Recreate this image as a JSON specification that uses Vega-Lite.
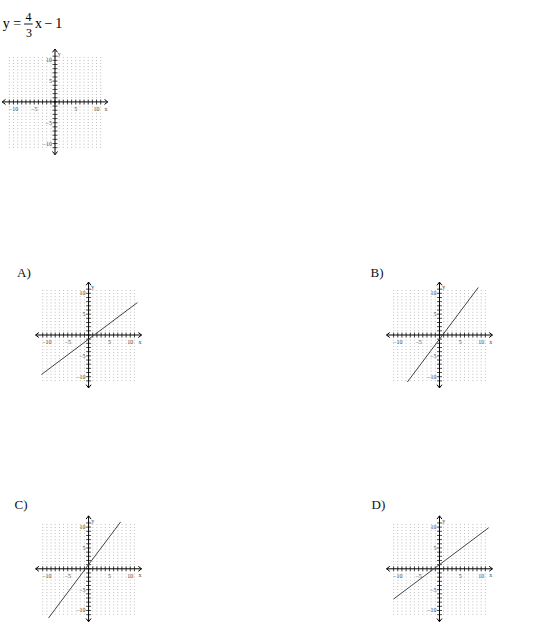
{
  "$schema": "https://vega.github.io/schema/vega-lite/v6.json",
  "description": "Worksheet: graph y = 4/3x - 1, with four answer graphs A-D.",
  "padding": 0,
  "bounds": "flush",
  "columns": 2,
  "align": "each",
  "spacing": {"row": 124.8, "column": 208.9},
  "datasets": {
    "grid": [{"v": -11}, {"v": -10}, {"v": -9}, {"v": -8}, {"v": -7}, {"v": -6}, {"v": -5}, {"v": -4}, {"v": -3}, {"v": -2}, {"v": -1}, {"v": 0}, {"v": 1}, {"v": 2}, {"v": 3}, {"v": 4}, {"v": 5}, {"v": 6}, {"v": 7}, {"v": 8}, {"v": 9}, {"v": 10}, {"v": 11}],
    "ticklabels": [{"v": -10}, {"v": -5}, {"v": 5}, {"v": 10}],
    "axes": [{"x": -12.7, "x2": 12.7, "y": 0, "y2": 0}, {"x": 0, "x2": 0, "y": -12.7, "y2": 12.7}],
    "arrows": [{"x": -12.7, "y": 0, "d": "left"}, {"x": 12.7, "y": 0, "d": "right"}, {"x": 0, "y": 12.7, "d": "up"}, {"x": 0, "y": -12.7, "d": "down"}],
    "names": [{"t": "x", "x": 12.3, "y": -1.6}, {"t": "y", "x": 1.0, "y": 11.5}],
    "lines": [
      {"p": "A", "x": -11.3, "y": -9.475}, {"p": "A", "x": 11.7, "y": 7.775},
      {"p": "B", "x": -7.7, "y": -11.27}, {"p": "B", "x": 9.3, "y": 11.4},
      {"p": "C", "x": -9.6, "y": -11.8}, {"p": "C", "x": 7.7, "y": 11.27},
      {"p": "D", "x": -11.0, "y": -7.25}, {"p": "D", "x": 11.8, "y": 9.85}
    ]
  },
  "concat": [
    {
      "width": 108,
      "height": 156,
      "data": {"values": [{}]},
      "layer": [
        {"data": {"name": "grid"}, "mark": {"type": "rule", "stroke": "#9a9a9a", "strokeWidth": 0.8, "strokeDash": [0.8, 2.3]},
         "encoding": {"x": {"field": "v", "type": "quantitative", "scale": {"domain": [-13, 13], "nice": false, "zero": false}},
                      "y": {"datum": -11, "type": "quantitative", "scale": {"domain": [-13, 24.5], "nice": false, "zero": false}}, "y2": {"datum": 11}}},
        {"data": {"name": "axes"}, "mark": {"type": "rule", "stroke": "#000", "strokeWidth": 1},
         "encoding": {"x": {"field": "x", "type": "quantitative"}, "x2": {"field": "x2"}, "y": {"field": "y", "type": "quantitative"}, "y2": {"field": "y2"}}},
        {"data": {"name": "grid"}, "mark": {"type": "tick", "orient": "vertical", "size": 5, "thickness": 1, "color": "#000"},
         "encoding": {"x": {"field": "v", "type": "quantitative"}, "y": {"datum": 0, "type": "quantitative"}}},
        {"data": {"name": "grid"}, "mark": {"type": "tick", "orient": "horizontal", "size": 5, "thickness": 1, "color": "#000"},
         "encoding": {"y": {"field": "v", "type": "quantitative"}, "x": {"datum": 0, "type": "quantitative"}}},
        {"data": {"name": "arrows"}, "mark": {"type": "point", "filled": false, "color": "#000", "strokeWidth": 1, "size": 25, "opacity": 1},
         "encoding": {"x": {"field": "x", "type": "quantitative"}, "y": {"field": "y", "type": "quantitative"},
                      "shape": {"field": "d", "type": "nominal", "legend": null, "scale": {"domain": ["left", "right", "up", "down"], "range": ["M1.3,-1L0,0L1.3,1", "M-1.3,-1L0,0L-1.3,1", "M-1,1.3L0,0L1,1.3", "M-1,-1.3L0,0L1,-1.3"]}}}},
        {"data": {"name": "ticklabels"}, "mark": {"type": "text", "font": "Liberation Serif", "fontSize": 6, "color": "#333", "opacity": 0.9, "dy": 7, "baseline": "middle"},
         "encoding": {"x": {"field": "v", "type": "quantitative"}, "y": {"datum": 0, "type": "quantitative"}, "text": {"field": "v", "type": "quantitative"}}},
        {"data": {"name": "ticklabels"}, "mark": {"type": "text", "font": "Liberation Serif", "fontSize": 6, "color": "#333", "opacity": 0.9, "dx": -3, "align": "right", "baseline": "middle"},
         "encoding": {"y": {"field": "v", "type": "quantitative"}, "x": {"datum": 0, "type": "quantitative"}, "text": {"field": "v", "type": "quantitative"}}},
        {"data": {"name": "names"}, "mark": {"type": "text", "font": "Liberation Serif", "fontSize": 6, "color": "#333", "opacity": 0.9, "baseline": "middle"},
         "encoding": {"x": {"field": "x", "type": "quantitative"}, "y": {"field": "y", "type": "quantitative"}, "text": {"field": "t"}}},
        {"mark": {"type": "text", "text": "y", "font": "Liberation Serif", "fontSize": 14, "baseline": "alphabetic"},
         "encoding": {"x": {"datum": -11.72, "type": "quantitative"}, "y": {"datum": 17.69, "type": "quantitative"}}},
        {"mark": {"type": "text", "text": "=", "font": "Liberation Serif", "fontSize": 14, "baseline": "alphabetic"},
         "encoding": {"x": {"datum": -9.1, "type": "quantitative"}, "y": {"datum": 17.69, "type": "quantitative"}}},
        {"mark": {"type": "text", "text": "4", "font": "Liberation Serif", "fontSize": 12, "baseline": "alphabetic"},
         "encoding": {"x": {"datum": -6.38, "type": "quantitative"}, "y": {"datum": 19.52, "type": "quantitative"}}},
        {"mark": {"type": "rule", "stroke": "#000", "strokeWidth": 0.9},
         "encoding": {"x": {"datum": -7.45, "type": "quantitative"}, "x2": {"datum": -5.37}, "y": {"datum": 18.73, "type": "quantitative"}}},
        {"mark": {"type": "text", "text": "3", "font": "Liberation Serif", "fontSize": 12, "baseline": "alphabetic"},
         "encoding": {"x": {"datum": -6.25, "type": "quantitative"}, "y": {"datum": 15.67, "type": "quantitative"}}},
        {"mark": {"type": "text", "text": "x", "font": "Liberation Serif", "fontSize": 14, "baseline": "alphabetic"},
         "encoding": {"x": {"datum": -3.97, "type": "quantitative"}, "y": {"datum": 17.69, "type": "quantitative"}}},
        {"mark": {"type": "text", "text": "−", "font": "Liberation Serif", "fontSize": 14, "baseline": "alphabetic"},
         "encoding": {"x": {"datum": -1.6, "type": "quantitative"}, "y": {"datum": 17.69, "type": "quantitative"}}},
        {"mark": {"type": "text", "text": "1", "font": "Liberation Serif", "fontSize": 14, "baseline": "alphabetic"},
         "encoding": {"x": {"datum": 0.91, "type": "quantitative"}, "y": {"datum": 17.69, "type": "quantitative"}}}
      ]
    },
    {
      "width": 141.8,
      "height": 156,
      "data": {"values": []},
      "mark": {"type": "point", "opacity": 0},
      "encoding": {}
    },
    {
      "width": 141.8, "height": 108.4,
      "title": {"text": "A)", "anchor": "start", "frame": "group", "dx": 16, "offset": 2.5, "dy": 12.5, "baseline": "alphabetic", "font": "Liberation Serif", "fontSize": 13, "fontWeight": "normal", "color": "#111"},
      "layer": [
        {"data": {"name": "grid"}, "mark": {"type": "rule", "stroke": "#9a9a9a", "strokeWidth": 0.8, "strokeDash": [0.8, 2.3]},
         "encoding": {"x": {"field": "v", "type": "quantitative", "scale": {"domain": [-21, 13], "nice": false, "zero": false}},
                      "y": {"datum": -11, "type": "quantitative", "scale": {"domain": [-13, 13], "nice": false, "zero": false}}, "y2": {"datum": 11}}},
        {"data": {"name": "axes"}, "mark": {"type": "rule", "stroke": "#000", "strokeWidth": 1},
         "encoding": {"x": {"field": "x", "type": "quantitative"}, "x2": {"field": "x2"}, "y": {"field": "y", "type": "quantitative"}, "y2": {"field": "y2"}}},
        {"data": {"name": "grid"}, "mark": {"type": "tick", "orient": "vertical", "size": 5, "thickness": 1, "color": "#000"},
         "encoding": {"x": {"field": "v", "type": "quantitative"}, "y": {"datum": 0, "type": "quantitative"}}},
        {"data": {"name": "grid"}, "mark": {"type": "tick", "orient": "horizontal", "size": 5, "thickness": 1, "color": "#000"},
         "encoding": {"y": {"field": "v", "type": "quantitative"}, "x": {"datum": 0, "type": "quantitative"}}},
        {"data": {"name": "arrows"}, "mark": {"type": "point", "filled": false, "color": "#000", "strokeWidth": 1, "size": 25, "opacity": 1},
         "encoding": {"x": {"field": "x", "type": "quantitative"}, "y": {"field": "y", "type": "quantitative"},
                      "shape": {"field": "d", "type": "nominal", "legend": null, "scale": {"domain": ["left", "right", "up", "down"], "range": ["M1.3,-1L0,0L1.3,1", "M-1.3,-1L0,0L-1.3,1", "M-1,1.3L0,0L1,1.3", "M-1,-1.3L0,0L1,-1.3"]}}}},
        {"data": {"name": "ticklabels"}, "mark": {"type": "text", "font": "Liberation Serif", "fontSize": 6, "color": "#333", "opacity": 0.9, "dy": 7, "baseline": "middle"},
         "encoding": {"x": {"field": "v", "type": "quantitative"}, "y": {"datum": 0, "type": "quantitative"}, "text": {"field": "v", "type": "quantitative"}}},
        {"data": {"name": "ticklabels"}, "mark": {"type": "text", "font": "Liberation Serif", "fontSize": 6, "color": "#333", "opacity": 0.9, "dx": -3, "align": "right", "baseline": "middle"},
         "encoding": {"y": {"field": "v", "type": "quantitative"}, "x": {"datum": 0, "type": "quantitative"}, "text": {"field": "v", "type": "quantitative"}}},
        {"data": {"name": "names"}, "mark": {"type": "text", "font": "Liberation Serif", "fontSize": 6, "color": "#333", "opacity": 0.9, "baseline": "middle"},
         "encoding": {"x": {"field": "x", "type": "quantitative"}, "y": {"field": "y", "type": "quantitative"}, "text": {"field": "t"}}},
        {"data": {"name": "lines"}, "transform": [{"filter": "datum.p === 'A'"}], "mark": {"type": "line", "color": "#444", "strokeWidth": 1},
         "encoding": {"x": {"field": "x", "type": "quantitative"}, "y": {"field": "y", "type": "quantitative"}}}
      ]
    },
    {
      "width": 141.8, "height": 108.4,
      "title": {"text": "B)", "anchor": "start", "frame": "group", "dx": 18.6, "offset": 2.5, "dy": 12.5, "baseline": "alphabetic", "font": "Liberation Serif", "fontSize": 13, "fontWeight": "normal", "color": "#111"},
      "layer": [
        {"data": {"name": "grid"}, "mark": {"type": "rule", "stroke": "#9a9a9a", "strokeWidth": 0.8, "strokeDash": [0.8, 2.3]},
         "encoding": {"x": {"field": "v", "type": "quantitative", "scale": {"domain": [-21, 13], "nice": false, "zero": false}},
                      "y": {"datum": -11, "type": "quantitative", "scale": {"domain": [-13, 13], "nice": false, "zero": false}}, "y2": {"datum": 11}}},
        {"data": {"name": "axes"}, "mark": {"type": "rule", "stroke": "#000", "strokeWidth": 1},
         "encoding": {"x": {"field": "x", "type": "quantitative"}, "x2": {"field": "x2"}, "y": {"field": "y", "type": "quantitative"}, "y2": {"field": "y2"}}},
        {"data": {"name": "grid"}, "mark": {"type": "tick", "orient": "vertical", "size": 5, "thickness": 1, "color": "#000"},
         "encoding": {"x": {"field": "v", "type": "quantitative"}, "y": {"datum": 0, "type": "quantitative"}}},
        {"data": {"name": "grid"}, "mark": {"type": "tick", "orient": "horizontal", "size": 5, "thickness": 1, "color": "#000"},
         "encoding": {"y": {"field": "v", "type": "quantitative"}, "x": {"datum": 0, "type": "quantitative"}}},
        {"data": {"name": "arrows"}, "mark": {"type": "point", "filled": false, "color": "#000", "strokeWidth": 1, "size": 25, "opacity": 1},
         "encoding": {"x": {"field": "x", "type": "quantitative"}, "y": {"field": "y", "type": "quantitative"},
                      "shape": {"field": "d", "type": "nominal", "legend": null, "scale": {"domain": ["left", "right", "up", "down"], "range": ["M1.3,-1L0,0L1.3,1", "M-1.3,-1L0,0L-1.3,1", "M-1,1.3L0,0L1,1.3", "M-1,-1.3L0,0L1,-1.3"]}}}},
        {"data": {"name": "ticklabels"}, "mark": {"type": "text", "font": "Liberation Serif", "fontSize": 6, "color": "#333", "opacity": 0.9, "dy": 7, "baseline": "middle"},
         "encoding": {"x": {"field": "v", "type": "quantitative"}, "y": {"datum": 0, "type": "quantitative"}, "text": {"field": "v", "type": "quantitative"}}},
        {"data": {"name": "ticklabels"}, "mark": {"type": "text", "font": "Liberation Serif", "fontSize": 6, "color": "#333", "opacity": 0.9, "dx": -3, "align": "right", "baseline": "middle"},
         "encoding": {"y": {"field": "v", "type": "quantitative"}, "x": {"datum": 0, "type": "quantitative"}, "text": {"field": "v", "type": "quantitative"}}},
        {"data": {"name": "names"}, "mark": {"type": "text", "font": "Liberation Serif", "fontSize": 6, "color": "#333", "opacity": 0.9, "baseline": "middle"},
         "encoding": {"x": {"field": "x", "type": "quantitative"}, "y": {"field": "y", "type": "quantitative"}, "text": {"field": "t"}}},
        {"data": {"name": "lines"}, "transform": [{"filter": "datum.p === 'B'"}], "mark": {"type": "line", "color": "#444", "strokeWidth": 1},
         "encoding": {"x": {"field": "x", "type": "quantitative"}, "y": {"field": "y", "type": "quantitative"}}}
      ]
    },
    {
      "width": 141.8, "height": 108.4,
      "title": {"text": "C)", "anchor": "start", "frame": "group", "dx": 13.5, "offset": 4, "dy": 12.5, "baseline": "alphabetic", "font": "Liberation Serif", "fontSize": 13, "fontWeight": "normal", "color": "#111"},
      "layer": [
        {"data": {"name": "grid"}, "mark": {"type": "rule", "stroke": "#9a9a9a", "strokeWidth": 0.8, "strokeDash": [0.8, 2.3]},
         "encoding": {"x": {"field": "v", "type": "quantitative", "scale": {"domain": [-21, 13], "nice": false, "zero": false}},
                      "y": {"datum": -11, "type": "quantitative", "scale": {"domain": [-13, 13], "nice": false, "zero": false}}, "y2": {"datum": 11}}},
        {"data": {"name": "axes"}, "mark": {"type": "rule", "stroke": "#000", "strokeWidth": 1},
         "encoding": {"x": {"field": "x", "type": "quantitative"}, "x2": {"field": "x2"}, "y": {"field": "y", "type": "quantitative"}, "y2": {"field": "y2"}}},
        {"data": {"name": "grid"}, "mark": {"type": "tick", "orient": "vertical", "size": 5, "thickness": 1, "color": "#000"},
         "encoding": {"x": {"field": "v", "type": "quantitative"}, "y": {"datum": 0, "type": "quantitative"}}},
        {"data": {"name": "grid"}, "mark": {"type": "tick", "orient": "horizontal", "size": 5, "thickness": 1, "color": "#000"},
         "encoding": {"y": {"field": "v", "type": "quantitative"}, "x": {"datum": 0, "type": "quantitative"}}},
        {"data": {"name": "arrows"}, "mark": {"type": "point", "filled": false, "color": "#000", "strokeWidth": 1, "size": 25, "opacity": 1},
         "encoding": {"x": {"field": "x", "type": "quantitative"}, "y": {"field": "y", "type": "quantitative"},
                      "shape": {"field": "d", "type": "nominal", "legend": null, "scale": {"domain": ["left", "right", "up", "down"], "range": ["M1.3,-1L0,0L1.3,1", "M-1.3,-1L0,0L-1.3,1", "M-1,1.3L0,0L1,1.3", "M-1,-1.3L0,0L1,-1.3"]}}}},
        {"data": {"name": "ticklabels"}, "mark": {"type": "text", "font": "Liberation Serif", "fontSize": 6, "color": "#333", "opacity": 0.9, "dy": 7, "baseline": "middle"},
         "encoding": {"x": {"field": "v", "type": "quantitative"}, "y": {"datum": 0, "type": "quantitative"}, "text": {"field": "v", "type": "quantitative"}}},
        {"data": {"name": "ticklabels"}, "mark": {"type": "text", "font": "Liberation Serif", "fontSize": 6, "color": "#333", "opacity": 0.9, "dx": -3, "align": "right", "baseline": "middle"},
         "encoding": {"y": {"field": "v", "type": "quantitative"}, "x": {"datum": 0, "type": "quantitative"}, "text": {"field": "v", "type": "quantitative"}}},
        {"data": {"name": "names"}, "mark": {"type": "text", "font": "Liberation Serif", "fontSize": 6, "color": "#333", "opacity": 0.9, "baseline": "middle"},
         "encoding": {"x": {"field": "x", "type": "quantitative"}, "y": {"field": "y", "type": "quantitative"}, "text": {"field": "t"}}},
        {"data": {"name": "lines"}, "transform": [{"filter": "datum.p === 'C'"}], "mark": {"type": "line", "color": "#444", "strokeWidth": 1},
         "encoding": {"x": {"field": "x", "type": "quantitative"}, "y": {"field": "y", "type": "quantitative"}}}
      ]
    },
    {
      "width": 141.8, "height": 108.4,
      "title": {"text": "D)", "anchor": "start", "frame": "group", "dx": 19.6, "offset": 4, "dy": 12.5, "baseline": "alphabetic", "font": "Liberation Serif", "fontSize": 13, "fontWeight": "normal", "color": "#111"},
      "layer": [
        {"data": {"name": "grid"}, "mark": {"type": "rule", "stroke": "#9a9a9a", "strokeWidth": 0.8, "strokeDash": [0.8, 2.3]},
         "encoding": {"x": {"field": "v", "type": "quantitative", "scale": {"domain": [-21, 13], "nice": false, "zero": false}},
                      "y": {"datum": -11, "type": "quantitative", "scale": {"domain": [-13, 13], "nice": false, "zero": false}}, "y2": {"datum": 11}}},
        {"data": {"name": "axes"}, "mark": {"type": "rule", "stroke": "#000", "strokeWidth": 1},
         "encoding": {"x": {"field": "x", "type": "quantitative"}, "x2": {"field": "x2"}, "y": {"field": "y", "type": "quantitative"}, "y2": {"field": "y2"}}},
        {"data": {"name": "grid"}, "mark": {"type": "tick", "orient": "vertical", "size": 5, "thickness": 1, "color": "#000"},
         "encoding": {"x": {"field": "v", "type": "quantitative"}, "y": {"datum": 0, "type": "quantitative"}}},
        {"data": {"name": "grid"}, "mark": {"type": "tick", "orient": "horizontal", "size": 5, "thickness": 1, "color": "#000"},
         "encoding": {"y": {"field": "v", "type": "quantitative"}, "x": {"datum": 0, "type": "quantitative"}}},
        {"data": {"name": "arrows"}, "mark": {"type": "point", "filled": false, "color": "#000", "strokeWidth": 1, "size": 25, "opacity": 1},
         "encoding": {"x": {"field": "x", "type": "quantitative"}, "y": {"field": "y", "type": "quantitative"},
                      "shape": {"field": "d", "type": "nominal", "legend": null, "scale": {"domain": ["left", "right", "up", "down"], "range": ["M1.3,-1L0,0L1.3,1", "M-1.3,-1L0,0L-1.3,1", "M-1,1.3L0,0L1,1.3", "M-1,-1.3L0,0L1,-1.3"]}}}},
        {"data": {"name": "ticklabels"}, "mark": {"type": "text", "font": "Liberation Serif", "fontSize": 6, "color": "#333", "opacity": 0.9, "dy": 7, "baseline": "middle"},
         "encoding": {"x": {"field": "v", "type": "quantitative"}, "y": {"datum": 0, "type": "quantitative"}, "text": {"field": "v", "type": "quantitative"}}},
        {"data": {"name": "ticklabels"}, "mark": {"type": "text", "font": "Liberation Serif", "fontSize": 6, "color": "#333", "opacity": 0.9, "dx": -3, "align": "right", "baseline": "middle"},
         "encoding": {"y": {"field": "v", "type": "quantitative"}, "x": {"datum": 0, "type": "quantitative"}, "text": {"field": "v", "type": "quantitative"}}},
        {"data": {"name": "names"}, "mark": {"type": "text", "font": "Liberation Serif", "fontSize": 6, "color": "#333", "opacity": 0.9, "baseline": "middle"},
         "encoding": {"x": {"field": "x", "type": "quantitative"}, "y": {"field": "y", "type": "quantitative"}, "text": {"field": "t"}}},
        {"data": {"name": "lines"}, "transform": [{"filter": "datum.p === 'D'"}], "mark": {"type": "line", "color": "#444", "strokeWidth": 1},
         "encoding": {"x": {"field": "x", "type": "quantitative"}, "y": {"field": "y", "type": "quantitative"}}}
      ]
    }
  ],
  "config": {
    "view": {"stroke": null},
    "axis": {"disable": true}
  }
}
